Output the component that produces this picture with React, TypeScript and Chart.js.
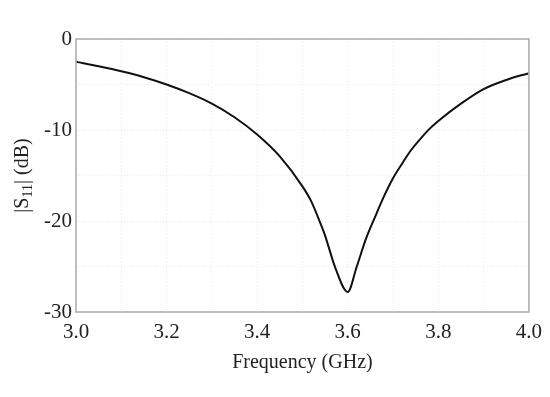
import React, { useEffect, useRef } from "react";
import { Chart, registerables } from "chart.js";

Chart.register(...registerables);

const freqGHz = [3.0, 3.05, 3.1, 3.15, 3.2, 3.25, 3.3, 3.35, 3.4, 3.45, 3.5, 3.52, 3.54, 3.55, 3.573, 3.6, 3.62, 3.64, 3.66, 3.68, 3.7, 3.72, 3.74, 3.76, 3.78, 3.8, 3.85, 3.9, 3.95, 4.0];
const s11dB = [-2.5, -3.0, -3.55, -4.2, -5.0, -5.95, -7.1, -8.6, -10.5, -12.9, -16.2, -17.9, -20.3, -21.6, -25.2, -27.8, -25.0, -22.0, -19.6, -17.3, -15.3, -13.7, -12.2, -11.0, -9.9, -9.0, -7.1, -5.5, -4.5, -3.75];

const FONT = "'Liberation Serif', 'Times New Roman', serif";

const framePlugin = {
  id: "frameAndTitle",
  afterDraw(chart: any) {
    const { ctx, chartArea } = chart;
    ctx.save();
    ctx.strokeStyle = "#aaaaaa";
    ctx.lineWidth = 1.5;
    ctx.strokeRect(chartArea.left, chartArea.top, chartArea.right - chartArea.left, chartArea.bottom - chartArea.top);
    const cy = (chartArea.top + chartArea.bottom) / 2;
    ctx.translate(23, cy);
    ctx.rotate(-Math.PI / 2);
    ctx.fillStyle = "#222";
    ctx.textBaseline = "middle";
    const big = `20px ${FONT}`;
    const small = `14px ${FONT}`;
    const parts = [
      { t: "|S", f: big, dy: 0 },
      { t: "11", f: small, dy: 5 },
      { t: "| (dB)", f: big, dy: 0 },
    ];
    let total = 0;
    for (const p of parts) { ctx.font = p.f; total += ctx.measureText(p.t).width; }
    let x = -total / 2;
    for (const p of parts) {
      ctx.font = p.f;
      ctx.fillText(p.t, x, p.dy);
      x += ctx.measureText(p.t).width;
    }
    ctx.restore();
  },
};

export default function App() {
  const ref = useRef<HTMLCanvasElement>(null);
  useEffect(() => {
    document.body.style.margin = "0";
    const chart = new Chart(ref.current!, {
      type: "line",
      data: {
        datasets: [
          {
            data: freqGHz.map((f, i) => ({ x: f, y: s11dB[i] })),
            borderColor: "#111",
            borderWidth: 2,
            pointRadius: 0,
            cubicInterpolationMode: "monotone",
            fill: false,
          },
        ],
      },
      options: {
        animation: false,
        responsive: false,
        layout: { padding: { top: 39, right: 19, left: 0, bottom: 0 } },
        plugins: { legend: { display: false }, tooltip: { enabled: false } },
        scales: {
          x: {
            type: "linear",
            min: 3,
            max: 4,
            afterFit: (s: any) => { s.height = 85; },
            border: { display: false, dash: [1, 2] },
            grid: { color: "#ebebeb", lineWidth: 1, drawTicks: false },
            ticks: {
              stepSize: 0.1,
              autoSkip: false,
              maxRotation: 0,
              padding: 8,
              color: "#222",
              font: { family: FONT, size: 21 },
              callback: (v: any) => (Math.round(Number(v) * 10) % 2 === 0 ? Number(v).toFixed(1) : ""),
            },
            title: {
              display: true,
              text: "Frequency (GHz)",
              color: "#222",
              font: { family: FONT, size: 20 },
              padding: { top: 0, bottom: 22 },
            },
          },
          y: {
            min: -30,
            max: 0,
            afterFit: (s: any) => { s.width = 76; },
            border: { display: false, dash: [1, 2] },
            grid: { color: "#ebebeb", lineWidth: 1, drawTicks: false },
            ticks: {
              stepSize: 5,
              autoSkip: false,
              padding: 4,
              color: "#222",
              font: { family: FONT, size: 21 },
              callback: (v: any) => (Number(v) % 10 === 0 ? String(v) : ""),
            },
          },
        },
      },
      plugins: [framePlugin],
    });
    return () => chart.destroy();
  }, []);
  return <canvas ref={ref} width={550} height={397} style={{ display: "block", width: 550, height: 397 }} />;
}
